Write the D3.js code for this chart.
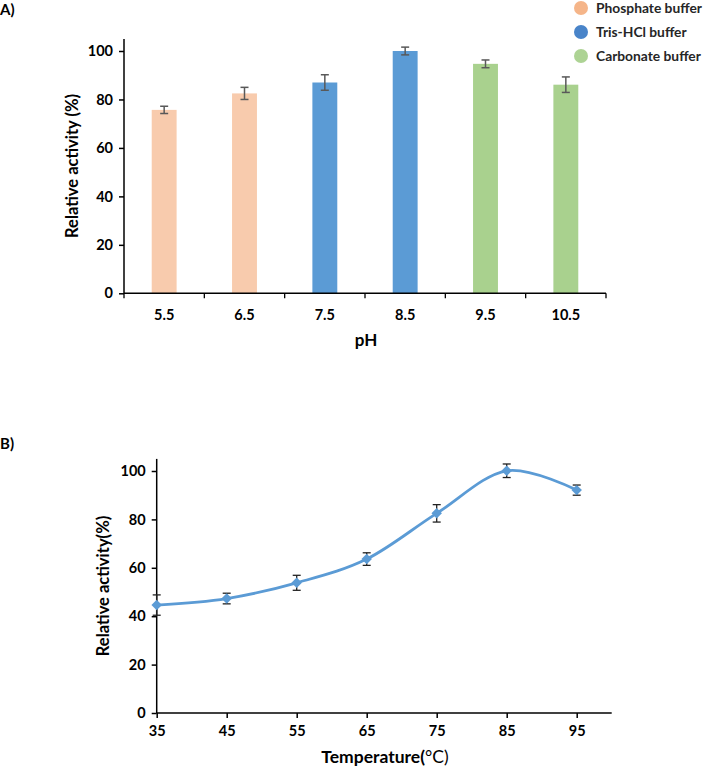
<!DOCTYPE html>
<html><head><meta charset="utf-8">
<script src="https://cdn.jsdelivr.net/npm/d3@7"></script>
<style>body{margin:0;background:#fff}svg{display:block;font-family:Lato,"Open Sans",sans-serif}</style>
</head><body><svg id="c" width="709" height="769"></svg>
<script>
// Panel A data
const phCategories = ["5.5","6.5","7.5","8.5","9.5","10.5"];
const phValues = [75.7, 82.5, 87.0, 100.0, 94.7, 86.1];
const phErrors = [1.5, 2.5, 3.2, 1.6, 1.6, 3.2];
const phBuffers = ["Phosphate buffer","Phosphate buffer","Tris-HCl buffer","Tris-HCl buffer","Carbonate buffer","Carbonate buffer"];
const bufferNames = ["Phosphate buffer","Tris-HCl buffer","Carbonate buffer"];
const yTicks = [0,20,40,60,80,100];
// Panel B data
const temps = [35,45,55,65,75,85,95];
const tempValues = [44.6, 47.3, 53.8, 63.6, 82.5, 100.1, 92.1];
const tempErrors = [4.2, 2.2, 3.1, 2.6, 3.6, 2.8, 2.1];

const svg = d3.select("#c");
const barColor = d3.scaleOrdinal().domain(bufferNames).range(["#f8cbad","#5b9bd5","#a9d18e"]);
const legendColor = d3.scaleOrdinal().domain(bufferNames).range(["#f4b183","#3f7dc6","#a9d18e"]);

// ---------- Panel A ----------
const ax = d3.scaleBand().domain(phCategories).range([124,606]).paddingInner(0).paddingOuter(0);
const ay = d3.scaleLinear().domain([0,100]).range([293.3,51]);
const gA = svg.append("g");
const bw = ax.bandwidth()*0.31;
gA.selectAll("rect.bar").data(phCategories).join("rect").attr("class","bar")
  .attr("x", d=>ax(d)+ax.bandwidth()/2-bw/2).attr("width", bw)
  .attr("y", (d,i)=>ay(phValues[i])).attr("height",(d,i)=>ay(0)-ay(phValues[i]))
  .attr("fill",(d,i)=>barColor(phBuffers[i]));
// error bars
const eA = gA.append("g").attr("stroke","#595959").attr("stroke-width",1.5);
phCategories.forEach((d,i)=>{
  const cx = ax(d)+ax.bandwidth()/2;
  const y1 = ay(phValues[i]+phErrors[i]), y2 = ay(phValues[i]-phErrors[i]);
  eA.append("line").attr("x1",cx).attr("x2",cx).attr("y1",y1).attr("y2",y2);
  eA.append("line").attr("x1",cx-4).attr("x2",cx+4).attr("y1",y1).attr("y2",y1);
  eA.append("line").attr("x1",cx-4).attr("x2",cx+4).attr("y1",y2).attr("y2",y2);
});
// y axis
const yAxA = gA.append("g").attr("transform","translate(124,0)")
  .call(d3.axisLeft(ay).tickValues(yTicks).tickSize(5).tickPadding(6));
yAxA.select(".domain").attr("d","M0,"+ay(105)+"V"+ay(0));
// x axis
const xAxA = gA.append("g").attr("transform","translate(0,"+ay(0)+")");
xAxA.append("line").attr("x1",124).attr("x2",606).attr("stroke","#000").attr("stroke-width",1.5);
const bounds = phCategories.map(d=>ax(d)).concat([606]);
xAxA.selectAll("line.tk").data(bounds).join("line").attr("class","tk")
  .attr("x1",d=>d).attr("x2",d=>d).attr("y1",0).attr("y2",5).attr("stroke","#000").attr("stroke-width",1.3);
xAxA.selectAll("text").data(phCategories).join("text")
  .attr("x",d=>ax(d)+ax.bandwidth()/2).attr("y",27).attr("text-anchor","middle")
  .attr("font-size",14.5).attr("font-weight","bold").text(d=>d);
gA.append("text").attr("x",366).attr("y",346).attr("text-anchor","middle")
  .attr("font-size",17).attr("font-weight","bold").text("pH");
gA.append("text").attr("transform","translate(78,166) rotate(-90)").attr("text-anchor","middle")
  .attr("font-size",16.5).attr("font-weight","bold").text("Relative activity (%)");
gA.append("text").attr("x",0).attr("y",15).attr("font-size",15).attr("font-weight","bold").text("A)");
// legend
const lg = svg.append("g");
bufferNames.forEach((n,i)=>{
  const y = 8 + i*24;
  lg.append("circle").attr("cx",581).attr("cy",y).attr("r",7).attr("fill",legendColor(n)).attr("opacity",0.95);
  lg.append("text").attr("x",596).attr("y",y+5).attr("font-size",13.8).attr("font-weight","bold")
    .attr("fill","#262626").text(n);
});

// ---------- Panel B ----------
const bx = d3.scaleLinear().domain([35,100]).range([156.7,611.7]);
const by = d3.scaleLinear().domain([0,100]).range([713,471]);
const gB = svg.append("g");
const yAxB = gB.append("g").attr("transform","translate(156.7,0)")
  .call(d3.axisLeft(by).tickValues(yTicks).tickSize(5).tickPadding(6));
yAxB.select(".domain").attr("d","M0,"+by(105)+"V"+by(0));
const xAxB = gB.append("g").attr("transform","translate(0,"+by(0)+")")
  .call(d3.axisBottom(bx).tickValues(temps).tickSize(5).tickPadding(8));
xAxB.select(".domain").attr("d","M156.7,0H611.7");
[yAxA,yAxB,xAxB].forEach(a=>{
  a.selectAll("text").attr("font-size",14.5).attr("font-weight","bold").attr("fill","#000").attr("font-family","Lato,sans-serif");
  a.selectAll(".domain,line").attr("stroke","#000").attr("stroke-width",1.5);
});
const line = d3.line().x((d,i)=>bx(temps[i])).y(d=>by(d)).curve(d3.curveCatmullRom.alpha(0));
gB.append("path").datum(tempValues).attr("d",line).attr("fill","none").attr("stroke","#5b9bd5").attr("stroke-width",2.8);
const eB = gB.append("g").attr("stroke","#222").attr("stroke-width",1.3);
temps.forEach((t,i)=>{
  const cx = bx(t);
  const y1 = by(tempValues[i]+tempErrors[i]), y2 = by(tempValues[i]-tempErrors[i]);
  eB.append("line").attr("x1",cx).attr("x2",cx).attr("y1",y1).attr("y2",y2);
  eB.append("line").attr("x1",cx-4).attr("x2",cx+4).attr("y1",y1).attr("y2",y1);
  eB.append("line").attr("x1",cx-4).attr("x2",cx+4).attr("y1",y2).attr("y2",y2);
});
gB.selectAll("path.mk").data(tempValues).join("path").attr("class","mk")
  .attr("transform",(d,i)=>"translate("+bx(temps[i])+","+by(d)+")")
  .attr("d",d3.symbol(d3.symbolDiamond2,70)()).attr("fill","#5b9bd5");
gB.append("text").attr("transform","translate(109,586) rotate(-90)").attr("text-anchor","middle")
  .attr("font-size",16.5).attr("font-weight","bold").text("Relative activity(%)");
const tl = gB.append("text").attr("x",385).attr("y",763).attr("text-anchor","middle").attr("font-size",17.5);
tl.append("tspan").attr("font-weight","bold").text("Temperature(");
tl.append("tspan").attr("font-weight","normal").text("°C)");
gB.append("text").attr("x",0).attr("y",449).attr("font-size",15).attr("font-weight","bold").text("B)");
</script></body></html>
